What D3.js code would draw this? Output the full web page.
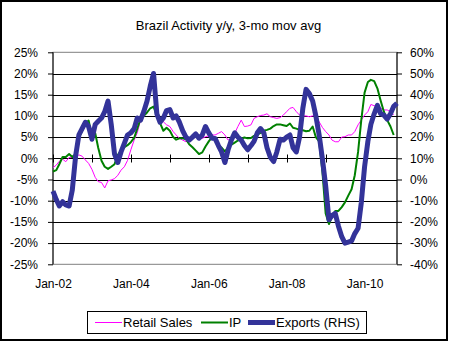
<!DOCTYPE html>
<html>
<head>
<meta charset="utf-8">
<script src="https://cdn.jsdelivr.net/npm/d3@7"></script>
<style>
  body { margin: 0; background: #fff; }
  svg { display: block; font-family: "Liberation Sans", Arial, sans-serif; }
</style>
</head>
<body>
<svg id="chart" width="451" height="343"></svg>
<script>
// monthly values starting Jan-02
const startYear = 2002;
const retailSales = [
  -2.2, -1.6, -0.7, -0.2, -0.8, 0.2, 0.2, 0.4, 0.8, 0.5,
  -0.4, -1.2, -2.6, -4.5, -5.5, -5.7, -7, -5.3, -5.1, -4.8,
  -4, -2.8, -2, -0.5, 2, 4.3, 6, 9, 10, 11,
  11.8, 12.2, 10.6, 9.4, 8.6, 7.9, 7.5, 6.3, 5.5, 4.7,
  4.3, 3.9, 4.3, 4.7, 5, 4.7, 4.7, 5.1, 5.3, 5.5,
  5.5, 5.9, 6.3, 5.5, 4.3, 4.7, 5.9, 7.5, 9, 7.5,
  7.6, 7.9, 9.4, 9.8, 10.1, 10.2, 10.5, 9.8, 9.6, 9.4,
  9.6, 10.2, 11, 11.8, 12, 11, 10.2, 10, 10, 9.8,
  10, 10.2, 8.6, 7.3, 6.3, 5.5, 4.3, 3.9, 3.9, 5,
  5.1, 5.5, 5.5, 6.3, 7.9, 9, 10.2, 11, 12.7, 12.4,
  12.3, 11.8, 11.4, 11.4, 11, 10.2
];
const ip = [
  -3.1, -2.8, -1.4, 0.3, 0.3, 1, 0.3, 1, 4.8, 6.5,
  8.2, 8.9, 5.2, 5.9, 2.5, -0.6, -2, -2.5, -2, -1.4,
  0.8, 1.8, 2.6, 3.1, 3.8, 4.8, 7, 9.3, 10, 10.8,
  11.8, 12.2, 10, 8.3, 6.5, 7.2, 6.5, 5, 4.4, 4.7,
  4.7, 4.5, 3.3, 2.6, 1.8, 1, 1.4, 2.8, 4, 5,
  4.3, 3, 2.5, 1.6, 2.6, 3.2, 3.7, 4.2, 4.6, 4.9,
  4.7, 4.8, 5.3, 5.6, 6, 6.5, 6.7, 7, 7.6, 8,
  8, 7.8, 7.6, 8.2, 7.2, 7, 6.7, 6.6, 6.4, 6.5,
  7.5, 5, 4, -3, -13, -15.5, -13.8, -12.4, -12.4, -11.5,
  -10.4, -8.8, -7.3, -4, 1.5, 9, 15.5, 18, 18.5, 18.2,
  16.5, 13.6, 11, 9, 7.5, 5.5
];
const exportsRhs = [
  -5.5, -9.5, -12.5, -10.5, -12, -12.5, -5, 11, 21, 24,
  27, 25, 19, 26, 27.5, 29, 32, 37, 26, 12,
  8, 13, 17, 21, 22, 24, 29, 28, 32, 37,
  44, 50, 31, 27, 29, 32.5, 33, 29, 30, 27,
  23, 20, 18.6, 20, 21.5, 19.5, 21, 25, 22, 19.5,
  19.4, 16, 13, 8, 14, 18.6, 22, 20, 18.6, 16,
  14, 16, 18, 22, 24, 22, 15, 10.5, 8.5, 13,
  19, 18.6, 20, 21, 15, 13, 20, 33.6, 42.5, 40.5,
  37, 30, 21, 10, -3, -19, -17, -16, -22, -27,
  -30, -29.5, -29, -25.5, -23, -11, 6, 18, 26, 31,
  35, 31, 30.4, 28.5, 31, 34.5, 36
];
const leftTicks = d3.range(-25, 26, 5);
const rightTicks = d3.range(-40, 61, 10);
const seriesNames = ["Retail Sales", "IP", "Exports (RHS)"];

const svg = d3.select("#chart");
const plot = { left: 53, right: 397, top: 52.3, bottom: 264.3 };

const dateOf = i => new Date(startYear, i, 1);
const x = d3.scaleTime()
  .domain([dateOf(0), dateOf(exportsRhs.length - 1)])
  .range([plot.left, plot.right]);
const yL = d3.scaleLinear().domain([-25, 25]).range([plot.bottom, plot.top]);
const yR = d3.scaleLinear().domain([-40, 60]).range([plot.bottom, plot.top]);

// outer frame
svg.append("rect")
  .attr("x", 1).attr("y", 1).attr("width", 446).attr("height", 339)
  .attr("fill", "#fff").attr("stroke", "#000").attr("stroke-width", 2);

svg.append("text")
  .attr("x", 228.5).attr("y", 29.5)
  .attr("text-anchor", "middle")
  .attr("font-size", 13)
  .text("Brazil Activity y/y, 3-mo mov avg");

// plot border + grid
svg.append("rect")
  .attr("x", plot.left).attr("y", plot.top)
  .attr("width", plot.right - plot.left).attr("height", plot.bottom - plot.top)
  .attr("fill", "none").attr("stroke", "#808080");

svg.append("g")
  .selectAll("line")
  .data(leftTicks.slice(1, -1))
  .enter().append("line")
  .attr("x1", plot.left).attr("x2", plot.right)
  .attr("y1", d => Math.round(yL(d)) + 0.5).attr("y2", d => Math.round(yL(d)) + 0.5)
  .attr("stroke", "#000");

// left axis
const gL = svg.append("g")
  .attr("transform", `translate(${plot.left},0)`)
  .call(d3.axisLeft(yL).tickValues(leftTicks).tickFormat(d => d + "%")
    .tickSize(5).tickPadding(10).tickSizeOuter(0));
gL.select(".domain").remove();
gL.selectAll("text").attr("font-size", 12).attr("fill", "#000").attr("font-family", null);
gL.append("line").attr("y1", plot.top).attr("y2", plot.bottom).attr("stroke", "#000");

// right axis
const gR = svg.append("g")
  .attr("transform", `translate(${plot.right},0)`)
  .call(d3.axisRight(yR).tickValues(rightTicks).tickFormat(d => d + "%")
    .tickSize(5).tickPadding(8).tickSizeOuter(0));
gR.select(".domain").remove();
gR.selectAll("text").attr("font-size", 12).attr("fill", "#000").attr("font-family", null);
gR.append("line").attr("y1", plot.top).attr("y2", plot.bottom).attr("stroke", "#000");

// x axis on zero line, crossing ticks
const y0 = Math.round(yL(0)) + 0.5;
svg.append("g")
  .selectAll("line")
  .data(x.ticks(d3.timeYear.every(1)))
  .enter().append("line")
  .attr("x1", d => Math.round(x(d)) + 0.5).attr("x2", d => Math.round(x(d)) + 0.5)
  .attr("y1", y0 - 4).attr("y2", y0 + 4)
  .attr("stroke", "#000");

const gX = svg.append("g")
  .attr("transform", `translate(0,${plot.bottom})`)
  .call(d3.axisBottom(x).ticks(d3.timeYear.every(2)).tickFormat(d3.timeFormat("%b-%y"))
    .tickSize(0).tickPadding(15));
gX.select(".domain").remove();
gX.selectAll("text").attr("font-size", 12).attr("fill", "#000").attr("font-family", null);

// series
const series = [
  { values: retailSales, y: yL, color: "#ff00ff", width: 1 },
  { values: ip, y: yL, color: "#008000", width: 2 },
  { values: exportsRhs, y: yR, color: "#333399", width: 5 }
];

series.forEach(s => {
  const line = d3.line()
    .x((d, i) => x(dateOf(i)))
    .y(d => s.y(d));
  svg.append("path")
    .datum(s.values)
    .attr("d", line)
    .attr("fill", "none")
    .attr("stroke", s.color)
    .attr("stroke-width", s.width)
    .attr("stroke-linejoin", "round");
});

// legend
const legend = svg.append("g");
legend.append("rect")
  .attr("x", 87.5).attr("y", 311.5).attr("width", 279).attr("height", 22)
  .attr("fill", "#fff").attr("stroke", "#000");
const legendX = [95, 201, 248];
series.forEach((s, i) => {
  legend.append("line")
    .attr("x1", legendX[i]).attr("x2", legendX[i] + 27)
    .attr("y1", 322.5).attr("y2", 322.5)
    .attr("stroke", s.color).attr("stroke-width", s.width);
  legend.append("text")
    .attr("x", legendX[i] + 28).attr("y", 327)
    .attr("font-size", 13)
    .text(seriesNames[i]);
});
</script>
</body>
</html>
